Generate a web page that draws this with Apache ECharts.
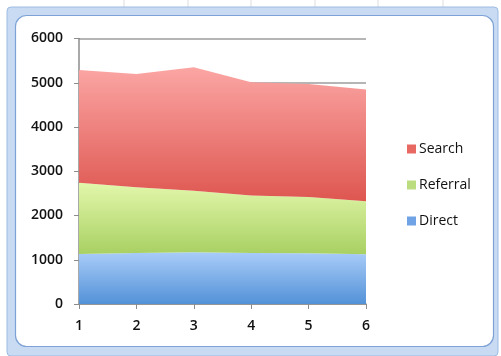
<!DOCTYPE html>
<html>
<head>
<meta charset="utf-8">
<script src="https://cdn.jsdelivr.net/npm/echarts@6/dist/echarts.min.js"></script>
<style>
  html, body { margin: 0; padding: 0; background: #fff; }
  #chart { width: 501px; height: 356px; }
</style>
</head>
<body>
<div id="chart"></div>
<script>
// data
const categories = ['1', '2', '3', '4', '5', '6'];
const direct = [1130, 1150, 1170, 1150, 1145, 1125];
const referral = [1610, 1490, 1390, 1300, 1275, 1195];
const search = [2550, 2560, 2790, 2560, 2550, 2530];
const yTicks = [0, 1000, 2000, 3000, 4000, 5000, 6000];

const font = '"Open Sans", "Liberation Sans", sans-serif';

function grad(top, bottom) {
  return new echarts.graphic.LinearGradient(0, 0, 0, 1, [
    { offset: 0, color: top },
    { offset: 1, color: bottom }
  ]);
}

// spreadsheet backdrop + chart frame
const sheetLines = [124, 188, 251, 315, 378, 443].map((x) => ({
  type: 'line', silent: true, z: -10,
  shape: { x1: x, y1: 0, x2: x, y2: 356 },
  style: { stroke: '#dcdcdc', lineWidth: 1 }
}));

const frame = [
  {
    type: 'rect', silent: true, z: -9,
    shape: { x: 7, y: 7, width: 491, height: 349, r: 4 },
    style: { fill: '#c8dbf2', stroke: '#9dbbe4', lineWidth: 1 }
  },
  {
    type: 'rect', silent: true, z: -8,
    shape: { x: 15.5, y: 15.5, width: 478, height: 331, r: 11 },
    style: { fill: '#ffffff', stroke: '#7ea2d6', lineWidth: 1.2 }
  }
];

const chart = echarts.init(document.getElementById('chart'));
chart.setOption({
  animation: false,
  graphic: sheetLines.concat(frame),
  grid: { left: 79, right: 135, top: 38.5, bottom: 52 },
  legend: {
    orient: 'vertical',
    left: 402,
    top: 137,
    itemGap: 22,
    itemWidth: 9,
    itemHeight: 9,
    icon: 'rect',
    data: ['Search', 'Referral', 'Direct'],
    textStyle: { color: '#111', fontSize: 14, fontFamily: font, fontWeight: 500, padding: [0, 0, 0, -2] }
  },
  xAxis: {
    type: 'category',
    data: categories,
    boundaryGap: false,
    axisLine: { lineStyle: { color: '#8c8c8c', width: 1.5 } },
    axisTick: { lineStyle: { color: '#8c8c8c' }, length: 5 },
    axisLabel: { color: '#111', fontSize: 14, fontFamily: font, fontWeight: 600, margin: 15 }
  },
  yAxis: {
    type: 'value',
    min: yTicks[0],
    max: yTicks[yTicks.length - 1],
    interval: 1000,
    axisLine: { show: true, lineStyle: { color: '#8c8c8c', width: 1.5 } },
    axisTick: { show: true, lineStyle: { color: '#8c8c8c' }, length: 5 },
    axisLabel: {
      color: '#111', fontSize: 14, fontFamily: font, fontWeight: 600, margin: 16,
      formatter: (v) => String(v)
    },
    splitLine: { lineStyle: { color: '#9c9c9c', width: 1.5 } }
  },
  series: [
    {
      name: 'Direct', type: 'line', stack: 'total', data: direct,
      symbol: 'none', lineStyle: { width: 0 },
      itemStyle: { color: '#6fa3e6' },
      areaStyle: { opacity: 1, color: grad('#a9ccf8', '#5392d8') }
    },
    {
      name: 'Referral', type: 'line', stack: 'total', data: referral,
      symbol: 'none', lineStyle: { width: 0 },
      itemStyle: { color: '#bcdc80' },
      areaStyle: { opacity: 1, color: grad('#e2f7ab', '#a9d063') }
    },
    {
      name: 'Search', type: 'line', stack: 'total', data: search,
      symbol: 'none', lineStyle: { width: 0 },
      itemStyle: { color: '#e86862' },
      areaStyle: { opacity: 1, color: grad('#fba6a4', '#de5650') }
    }
  ]
});
</script>
</body>
</html>
